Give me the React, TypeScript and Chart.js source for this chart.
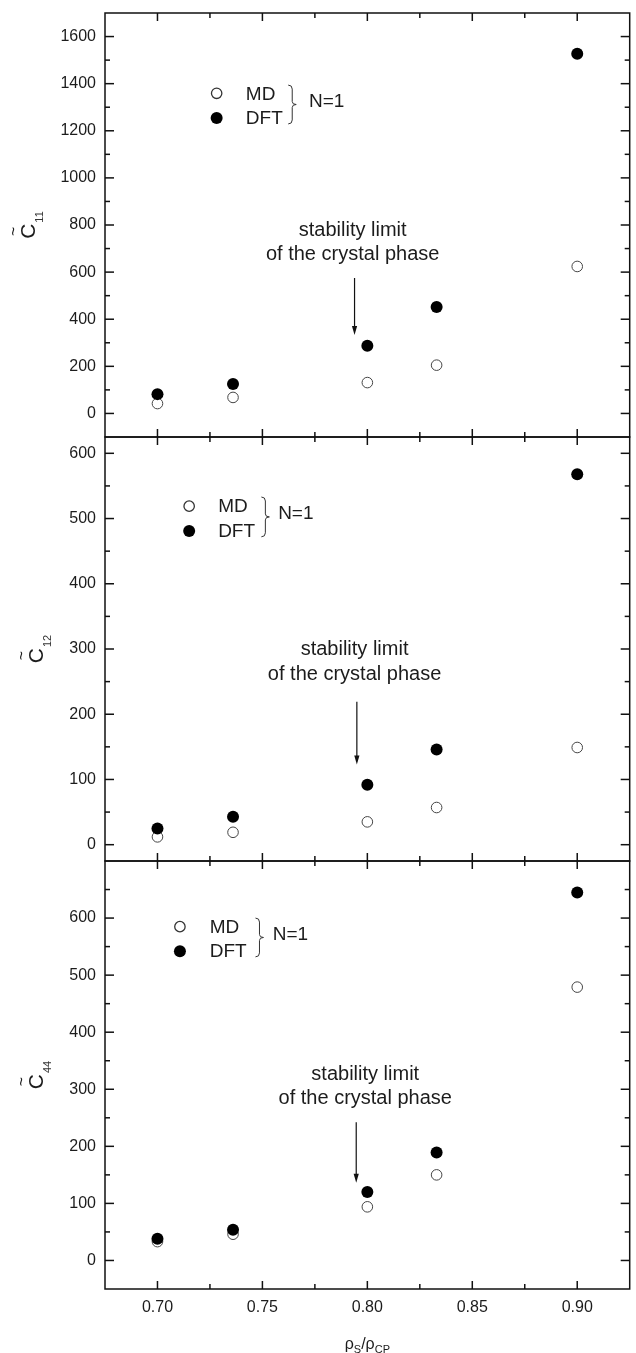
import React, { useEffect, useRef } from 'react';
import { Chart, registerables } from 'chart.js';

Chart.register(...registerables);

// ---------- data ----------
const xValues = [0.7, 0.736, 0.8, 0.833, 0.9];

const c11MD = [42, 68, 131, 205, 624];
const c11DFT = [82, 125, 287, 452, 1527];
const c12MD = [12, 19, 35, 57, 149];
const c12DFT = [25, 43, 92, 146, 568];
const c44MD = [33, 46, 94, 150, 479];
const c44DFT = [38, 54, 120, 189, 645];

const xRange = [0.675, 0.925];
const xMajorTicks = [0.7, 0.75, 0.8, 0.85, 0.9];
const xMinorTicks = [0.725, 0.775, 0.825, 0.875];

const c11Range = [-100, 1700];
const c11MajorTicks = [0, 200, 400, 600, 800, 1000, 1200, 1400, 1600];
const c11MinorTicks = [100, 300, 500, 700, 900, 1100, 1300, 1500];
const c12Range = [-25, 625];
const c12MajorTicks = [0, 100, 200, 300, 400, 500, 600];
const c12MinorTicks = [50, 150, 250, 350, 450, 550];
const c44Range = [-50, 700];
const c44MajorTicks = [0, 100, 200, 300, 400, 500, 600];
const c44MinorTicks = [50, 150, 250, 350, 450, 550, 650];

const seriesLabels = ['MD', 'DFT'];
const groupLabel = 'N=1';
const noteLines = ['stability limit', 'of the crystal phase'];

// ---------- layout (data-space anchors) ----------
const FONT = '"Liberation Sans", Arial, Helvetica, sans-serif';
const INK = '#1c1c1c';

type Panel = {
  key: string;
  md: number[];
  dft: number[];
  range: number[];
  major: number[];
  minor: number[];
  sub: string;
  titleOffset: number;
  showX: boolean;
  canvasTop: number;
  canvasHeight: number;
  padTop: number;
  padBottom: number;
  arrowX: number;
  arrowY: number[];
  noteX: number;
  noteY: number[];
  legendX: number[]; // marker, label, brace, group label
  legendY: number[]; // MD row, DFT row, brace top, brace bottom, group label
};

const panels: Panel[] = [
  {
    key: 'c11', md: c11MD, dft: c11DFT, range: c11Range, major: c11MajorTicks, minor: c11MinorTicks,
    sub: '11', titleOffset: -70, showX: false, canvasTop: 0, canvasHeight: 445, padTop: 13, padBottom: 8,
    arrowX: 0.7939, arrowY: [575, 333], noteX: 0.793, noteY: [753, 651],
    legendX: [0.7282, 0.7421, 0.7623, 0.7722], legendY: [1359, 1254, 1394, 1229, 1328],
  },
  {
    key: 'c12', md: c12MD, dft: c12DFT, range: c12Range, major: c12MajorTicks, minor: c12MinorTicks,
    sub: '12', titleOffset: -62, showX: false, canvasTop: 429, canvasHeight: 440, padTop: 8, padBottom: 8,
    arrowX: 0.795, arrowY: [219, 123], noteX: 0.7939, noteY: [291, 252],
    legendX: [0.7151, 0.7289, 0.7495, 0.7575], legendY: [519, 481, 533, 472, 509],
  },
  {
    key: 'c44', md: c44MD, dft: c44DFT, range: c44Range, major: c44MajorTicks, minor: c44MinorTicks,
    sub: '44', titleOffset: -62, showX: true, canvasTop: 853, canvasHeight: 500, padTop: 8, padBottom: 0,
    arrowX: 0.7947, arrowY: [242, 136], noteX: 0.799, noteY: [317, 275],
    legendX: [0.7107, 0.7249, 0.7467, 0.7549], legendY: [585, 542, 600, 532, 573],
  },
];

function makeDecor(p: Panel) {
  return {
    id: 'decor_' + p.key,
    afterDraw(chart: any) {
      const ctx: CanvasRenderingContext2D = chart.ctx;
      const a = chart.chartArea;
      const xs = chart.scales.x;
      const ys = chart.scales.y;
      const X = (v: number) => xs.getPixelForValue(v);
      const Y = (v: number) => ys.getPixelForValue(v);
      ctx.save();

      // ticks (inward) on all four sides
      ctx.strokeStyle = '#111';
      ctx.lineWidth = 1.5;
      const seg = (x1: number, y1: number, x2: number, y2: number) => {
        ctx.beginPath();
        ctx.moveTo(x1, y1);
        ctx.lineTo(x2, y2);
        ctx.stroke();
      };
      const xt = [...xMajorTicks.map((v) => [v, 8]), ...xMinorTicks.map((v) => [v, 5])];
      for (const [v, len] of xt) {
        const px = X(v);
        seg(px, a.bottom, px, a.bottom - len);
        seg(px, a.top, px, a.top + len);
      }
      const yt = [...p.major.map((v) => [v, 9]), ...p.minor.map((v) => [v, 5])];
      for (const [v, len] of yt) {
        const py = Y(v);
        seg(a.left, py, a.left + len, py);
        seg(a.right, py, a.right - len, py);
      }
      ctx.strokeRect(a.left, a.top, a.right - a.left, a.bottom - a.top);

      // legend
      const mx = X(p.legendX[0]);
      const mdY = Y(p.legendY[0]);
      const dftY = Y(p.legendY[1]);
      ctx.beginPath();
      ctx.arc(mx, mdY, 5.2, 0, Math.PI * 2);
      ctx.fillStyle = '#fff';
      ctx.fill();
      ctx.lineWidth = 1.3;
      ctx.strokeStyle = '#333';
      ctx.stroke();
      ctx.beginPath();
      ctx.arc(mx, dftY, 6, 0, Math.PI * 2);
      ctx.fillStyle = '#000';
      ctx.fill();

      ctx.fillStyle = INK;
      ctx.font = `19px ${FONT}`;
      ctx.textAlign = 'left';
      ctx.textBaseline = 'middle';
      ctx.fillText(seriesLabels[0], X(p.legendX[1]), mdY + 1);
      ctx.fillText(seriesLabels[1], X(p.legendX[1]), dftY + 1);

      // brace
      const bx = X(p.legendX[2]);
      const bt = Y(p.legendY[2]);
      const bb = Y(p.legendY[3]);
      const bm = (bt + bb) / 2;
      ctx.strokeStyle = '#333';
      ctx.lineWidth = 1;
      ctx.beginPath();
      ctx.moveTo(bx, bt);
      ctx.quadraticCurveTo(bx + 4, bt, bx + 4, bt + 4);
      ctx.lineTo(bx + 4, bm - 3);
      ctx.quadraticCurveTo(bx + 4, bm, bx + 8, bm);
      ctx.quadraticCurveTo(bx + 4, bm, bx + 4, bm + 3);
      ctx.lineTo(bx + 4, bb - 4);
      ctx.quadraticCurveTo(bx + 4, bb, bx, bb);
      ctx.stroke();
      ctx.fillText(groupLabel, X(p.legendX[3]), Y(p.legendY[4]) + 1);

      // annotation text
      ctx.font = `20px ${FONT}`;
      ctx.textAlign = 'center';
      ctx.textBaseline = 'alphabetic';
      ctx.fillText(noteLines[0], X(p.noteX), Y(p.noteY[0]));
      ctx.fillText(noteLines[1], X(p.noteX), Y(p.noteY[1]));

      // arrow
      const ax = X(p.arrowX);
      const ay1 = Y(p.arrowY[0]);
      const ay2 = Y(p.arrowY[1]);
      ctx.strokeStyle = '#111';
      ctx.lineWidth = 1.2;
      seg(ax, ay1, ax, ay2 - 6);
      ctx.beginPath();
      ctx.moveTo(ax, ay2);
      ctx.lineTo(ax - 2.6, ay2 - 9);
      ctx.lineTo(ax + 2.6, ay2 - 9);
      ctx.closePath();
      ctx.fillStyle = '#111';
      ctx.fill();

      // y axis title: C~ with subscript
      ctx.save();
      ctx.translate(a.left + p.titleOffset, (a.top + a.bottom) / 2);
      ctx.rotate(-Math.PI / 2);
      const big = `21px ${FONT}`;
      const small = `11px ${FONT}`;
      ctx.font = big;
      const wC = ctx.measureText('C').width;
      ctx.font = small;
      const wS = ctx.measureText(p.sub).width;
      const x0 = -(wC + wS + 1) / 2;
      ctx.fillStyle = INK;
      ctx.textAlign = 'left';
      ctx.textBaseline = 'alphabetic';
      ctx.font = big;
      ctx.fillText('C', x0, 0);
      ctx.font = small;
      ctx.fillStyle = '#333';
      ctx.fillText(p.sub, x0 + wC + 1, 8);
      ctx.font = `16px ${FONT}`;
      ctx.fillStyle = INK;
      ctx.textAlign = 'center';
      ctx.fillText('~', x0 + wC / 2, -16);
      ctx.restore();

      // x axis title
      if (p.showX) {
        const bigX = `16px ${FONT}`;
        const smallX = `11px ${FONT}`;
        const parts: [string, string, number][] = [
          ['ρ', bigX, 0], ['S', smallX, 4], ['/', bigX, 0], ['ρ', bigX, 0], ['CP', smallX, 4],
        ];
        let total = 0;
        const widths = parts.map(([t, f]) => {
          ctx.font = f;
          const w = ctx.measureText(t).width;
          total += w;
          return w;
        });
        let cx = (a.left + a.right) / 2 - total / 2;
        const base = a.bottom + 60;
        ctx.textAlign = 'left';
        ctx.textBaseline = 'alphabetic';
        ctx.fillStyle = INK;
        parts.forEach(([t, f, dy], i) => {
          ctx.font = f;
          ctx.fillText(t, cx, base + dy);
          cx += widths[i];
        });
      }
      ctx.restore();
    },
  };
}

function buildConfig(p: Panel): any {
  const yTicks = [...p.major, ...p.minor].sort((u, v) => u - v);
  const xTicks = [...xMajorTicks, ...xMinorTicks].sort((u, v) => u - v);
  return {
    type: 'scatter',
    data: {
      datasets: [
        {
          label: seriesLabels[1],
          data: xValues.map((x, i) => ({ x, y: p.dft[i] })),
          pointStyle: 'circle',
          pointRadius: 6,
          backgroundColor: '#000',
          borderColor: '#000',
          borderWidth: 0,
          order: 0,
        },
        {
          label: seriesLabels[0],
          data: xValues.map((x, i) => ({ x, y: p.md[i] })),
          pointStyle: 'circle',
          pointRadius: 5.3,
          backgroundColor: '#fff',
          borderColor: '#444',
          borderWidth: 1,
          order: 1,
        },
      ],
    },
    options: {
      animation: false,
      responsive: false,
      maintainAspectRatio: false,
      devicePixelRatio: 1,
      events: [],
      layout: { padding: { top: p.padTop, bottom: p.padBottom, left: 0, right: 1 } },
      plugins: { legend: { display: false }, tooltip: { enabled: false }, title: { display: false } },
      scales: {
        x: {
          type: 'linear',
          min: xRange[0],
          max: xRange[1],
          display: p.showX,
          afterBuildTicks: (s: any) => {
            s.ticks = xTicks.map((v) => ({ value: v }));
          },
          afterFit: (s: any) => {
            s.height = p.showX ? 64 : 0;
            s.paddingLeft = 0;
            s.paddingRight = 0;
          },
          ticks: {
            autoSkip: false,
            maxRotation: 0,
            padding: 9,
            color: INK,
            font: { family: FONT, size: 16 },
            callback: (v: number) => (xMajorTicks.includes(v) ? v.toFixed(2) : ''),
          },
          grid: { display: false, drawTicks: false },
          border: { display: false },
        },
        y: {
          type: 'linear',
          min: p.range[0],
          max: p.range[1],
          afterBuildTicks: (s: any) => {
            s.ticks = yTicks.map((v) => ({ value: v }));
          },
          afterFit: (s: any) => {
            s.width = 105;
            s.paddingTop = 0;
            s.paddingBottom = 0;
          },
          ticks: {
            autoSkip: false,
            padding: 9,
            color: INK,
            font: { family: FONT, size: 16 },
            callback: (v: number) => (p.major.includes(v) ? String(v) : ''),
          },
          grid: { display: false, drawTicks: false },
          border: { display: false },
        },
      },
    },
    plugins: [makeDecor(p)],
  };
}

function PanelChart({ p }: { p: Panel }) {
  const ref = useRef<HTMLCanvasElement>(null);
  useEffect(() => {
    const chart = new Chart(ref.current as HTMLCanvasElement, buildConfig(p));
    return () => chart.destroy();
  }, [p]);
  return (
    <canvas
      ref={ref}
      width={636}
      height={p.canvasHeight}
      style={{ position: 'absolute', left: 0, top: p.canvasTop, width: 636, height: p.canvasHeight }}
    />
  );
}

export default function App() {
  return (
    <div
      style={{
        position: 'absolute',
        left: 0,
        top: 0,
        width: 636,
        height: 1353,
        background: '#fff',
        overflow: 'hidden',
      }}
    >
      {panels.map((p) => (
        <PanelChart key={p.key} p={p} />
      ))}
    </div>
  );
}
